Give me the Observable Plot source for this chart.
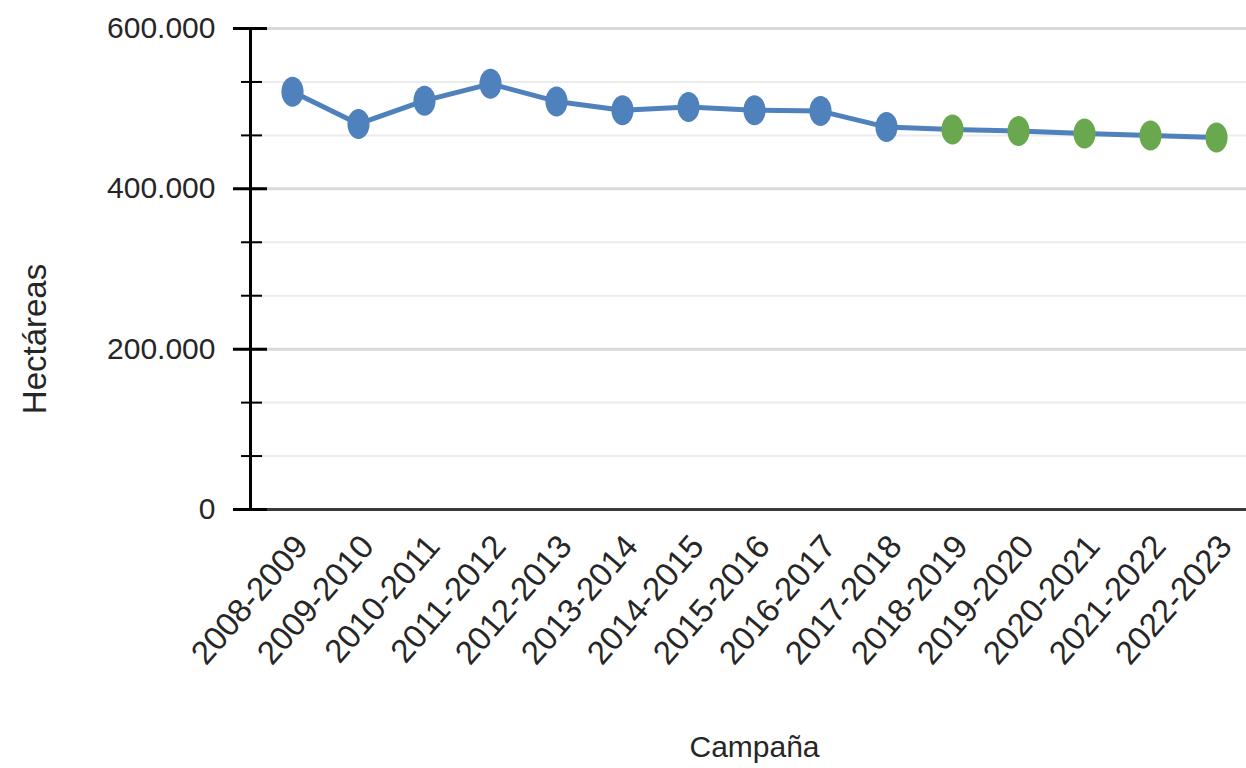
<!DOCTYPE html>
<html>
<head>
<meta charset="utf-8">
<script src="https://cdn.jsdelivr.net/npm/d3@7"></script>
<script src="https://cdn.jsdelivr.net/npm/@observablehq/plot@0.6"></script>
<style>
  html, body { margin: 0; padding: 0; background: #fff; }
  #chart svg { display: block; }
</style>
</head>
<body>
<div id="chart"></div>
<script>
const campanas = ["2008-2009","2009-2010","2010-2011","2011-2012","2012-2013","2013-2014","2014-2015","2015-2016","2016-2017","2017-2018","2018-2019","2019-2020","2020-2021","2021-2022","2022-2023"];
const hectareas = [521000, 481000, 510000, 531000, 509000, 498000, 502000, 498000, 497000, 477000, 474000, 472000, 469000, 466500, 464000];
const serie = ["real","real","real","real","real","real","real","real","real","real","estimada","estimada","estimada","estimada","estimada"];
const ticksMayores = [0, 200000, 400000, 600000];
const ticksMenores = [66667, 133333, 266667, 333333, 466667, 533333];
const gridMayor = [200000, 400000, 600000];

const data = campanas.map((c, i) => ({campana: c, hectareas: hectareas[i], serie: serie[i]}));

const elipse = {
  draw(ctx, size) {
    const r = Math.sqrt(size / Math.PI);
    const rx = r * 0.74, ry = r, k = 0.5523;
    ctx.moveTo(rx, 0);
    ctx.bezierCurveTo(rx, ry * k, rx * k, ry, 0, ry);
    ctx.bezierCurveTo(-rx * k, ry, -rx, ry * k, -rx, 0);
    ctx.bezierCurveTo(-rx, -ry * k, -rx * k, -ry, 0, -ry);
    ctx.bezierCurveTo(rx * k, -ry, rx, -ry * k, rx, 0);
    ctx.closePath();
  }
};

const fmt = d => d3.format(",")(Math.round(d)).replace(/,/g, ".");

const chart = Plot.plot({
  width: 1246,
  height: 768,
  marginLeft: 250,
  marginRight: 0,
  marginTop: 28,
  marginBottom: 259,
  style: {fontFamily: "'Liberation Sans', Arial, sans-serif", color: "#262626", background: "#fff"},
  x: {type: "point", domain: campanas, range: [285, 1222], padding: 0, axis: null},
  y: {domain: [0, 600000], range: [509, 28], axis: null},
  color: {domain: ["real", "estimada"], range: ["#4f81bd", "#6aa84f"]},
  marks: [
    Plot.ruleY(ticksMenores, {stroke: "#ececec", strokeWidth: 2}),
    Plot.ruleY(gridMayor, {stroke: "#d9d9d9", strokeWidth: 3}),
    Plot.ruleY([0], {stroke: "#3a3a3a", strokeWidth: 3}),
    Plot.frame({anchor: "left", stroke: "#000", strokeWidth: 3}),
    Plot.ruleY(ticksMayores, {stroke: "#000", strokeWidth: 3, insetLeft: -17, insetRight: 979}),
    Plot.ruleY(ticksMenores, {stroke: "#000", strokeWidth: 2, insetLeft: -9, insetRight: 984}),
    Plot.text(ticksMayores, {y: d => d, text: fmt, frameAnchor: "left", textAnchor: "end", dx: -35, fontSize: 30, fill: "#262626"}),
    Plot.text(campanas, {x: d => d, text: d => d, frameAnchor: "bottom", rotate: -49, textAnchor: "end", lineAnchor: "middle", dx: 9, dy: 31, fontSize: 33, fill: "#262626"}),
    Plot.text(["Hectáreas"], {frameAnchor: "left", rotate: -90, textAnchor: "middle", lineAnchor: "middle", dx: -215, dy: 70, fontSize: 33, fill: "#262626"}),
    Plot.text(["Campaña"], {frameAnchor: "bottom", textAnchor: "middle", lineAnchor: "middle", dx: 6, dy: 238, fontSize: 30, fill: "#262626"}),
    Plot.line(data, {x: "campana", y: "hectareas", stroke: "#4f81bd", strokeWidth: 5}),
    Plot.dot(data, {x: "campana", y: "hectareas", fill: "serie", r: 15, symbol: elipse, stroke: "none"})
  ]
});
document.getElementById("chart").appendChild(chart);
</script>
</body>
</html>
